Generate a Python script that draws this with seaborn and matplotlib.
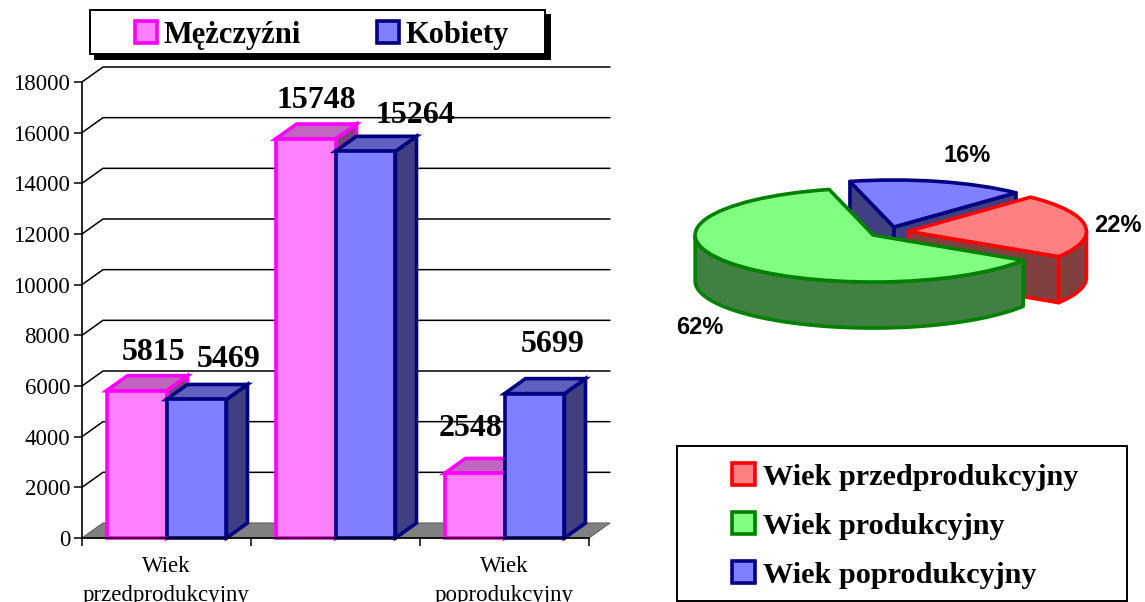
import numpy as np
import pandas as pd
import seaborn as sns
import matplotlib.pyplot as plt
from matplotlib.patches import Patch, Polygon, Rectangle

# %%
age_groups = ['Wiek\nprzedprodukcyjny', 'Wiek\nprodukcyjny', 'Wiek\npoprodukcyjny']
shown_labels = ['Wiek\nprzedprodukcyjny', '', 'Wiek\npoprodukcyjny']
men = [5815, 15748, 2548]
women = [5469, 15264, 5699]
series = ['Mężczyźni', 'Kobiety']
yticks = [0, 2000, 4000, 6000, 8000, 10000, 12000, 14000, 16000, 18000]

pie_labels = ['Wiek przedprodukcyjny', 'Wiek produkcyjny', 'Wiek poprodukcyjny']
pie_values = [22, 62, 16]

W, H = 1145, 602
DEPTH_X, DEPTH_Y = 21, 15   # fake 3d depth of the bar chart, pixels
PIE_DEPTH = 46
LW = 2.6

bar_fill = ['#FF80FF', '#8080FF']
bar_edge = ['#FF00FF', '#000080']
bar_top = ['#C066C0', '#6060C0']
bar_side = ['#804080', '#404080']
pie_fill = ['#FF8080', '#80FF80', '#8080FF']
pie_edge = ['#FF0000', '#008000', '#000080']
pie_wall = ['#804040', '#408040', '#404080']

sns.set_style('white')
plt.rcParams['font.family'] = ['Liberation Serif', 'DejaVu Sans']
plt.rcParams['patch.linewidth'] = LW
plt.rcParams['text.color'] = 'black'
plt.rcParams['xtick.color'] = 'black'
plt.rcParams['ytick.color'] = 'black'
plt.rcParams['xtick.labelcolor'] = 'black'
plt.rcParams['ytick.labelcolor'] = 'black'


def box(x0, y0, x1, y1):
    # pixel box, y going down as in the image
    return [x0 / W, 1 - y1 / H, (x1 - x0) / W, (y1 - y0) / H]


fig = plt.figure(figsize=(W / 100, H / 100), dpi=100)

# %%
# Bars
ax = fig.add_axes(box(82, 82, 589, 538))
ax.patch.set_visible(False)

df = pd.DataFrame({
    'group': age_groups * 2,
    'value': men + women,
    'sex': [series[0]] * 3 + [series[1]] * 3,
})
sns.barplot(
    data=df, x='group', y='value', hue='sex', hue_order=series,
    palette=bar_fill, width=0.71, gap=0, saturation=1, legend=False, ax=ax
)
ax.set_xlim(-0.5, 2.5)
ax.set_ylim(0, 18000)
ax.set_xlabel('')
ax.set_ylabel('')

dx = DEPTH_X * 3 / 507
dy = DEPTH_Y * 18000 / 456

ax.set_yticks(yticks)
ax.set_xticks([-0.5, 0.5, 1.5, 2.5])
ax.set_xticklabels([])
ax.set_xticks([0, 1, 2], minor=True)
ax.set_xticklabels(shown_labels, minor=True, fontsize=16.5, linespacing=1.5)
ax.tick_params(axis='y', which='major', left=True, length=5.5, width=1.1, labelsize=16.5, pad=3)
ax.tick_params(axis='x', which='major', bottom=True, length=6, width=1.1)
ax.tick_params(axis='x', which='minor', bottom=False, length=0, pad=13)
sns.despine(ax=ax)
for side in ['left', 'bottom']:
    ax.spines[side].set_color('black')
    ax.spines[side].set_linewidth(1.2)
    ax.spines[side].set_zorder(20)

# floor and back wall
ax.add_patch(Polygon(
    [(-0.5, 0), (-0.5 + dx, dy), (2.5 + dx, dy), (2.5, 0)],
    closed=True, fc='#808080', ec='#606060', lw=0.8, clip_on=False, zorder=0.5
))
for t in yticks[1:]:
    ax.plot([-0.5, -0.5 + dx, 2.5 + dx], [t, t + dy, t + dy], color='black',
            lw=1.1, clip_on=False, zorder=0.4)

for s, container in enumerate(ax.containers):
    for bar in container:
        x0, x1 = bar.get_x(), bar.get_x() + bar.get_width()
        h = bar.get_height()
        bar.set_edgecolor(bar_edge[s])
        bar.set_linewidth(LW)
        bar.set_clip_on(False)
        bar.set_zorder(3 + 2 * s)
        ax.add_patch(Polygon(
            [(x1, 0), (x1 + dx, dy), (x1 + dx, h + dy), (x1, h)],
            closed=True, fc=bar_side[s], ec=bar_edge[s], lw=LW, clip_on=False, zorder=2 + 2 * s
        ))
        ax.add_patch(Polygon(
            [(x0, h), (x0 + dx, h + dy), (x1 + dx, h + dy), (x1, h)],
            closed=True, fc=bar_top[s], ec=bar_edge[s], lw=LW, clip_on=False, zorder=2 + 2 * s
        ))

# value labels, offsets in pixels from the top centre of each bar
label_offsets = [[(17, 38), (11, 39), (-4, 45)], [(32, 40), (50, 36), (18, 49)]]
for s, container in enumerate(ax.containers):
    for i, bar in enumerate(container):
        h = bar.get_height()
        ax.annotate(
            f'{h:.0f}', (bar.get_x() + bar.get_width() / 2, h),
            xytext=label_offsets[s][i], textcoords='offset pixels',
            ha='center', va='center', fontsize=23, fontweight='bold',
            color='black', zorder=30
        )

# Legend of the bars
fig.add_artist(Rectangle((94 / W, 1 - 60 / H), 457 / W, 46 / H, transform=fig.transFigure,
                         fc='black', ec='black', lw=0, zorder=-2))
fig.add_artist(Rectangle((90 / W, 1 - 54 / H), 455 / W, 44 / H, transform=fig.transFigure,
                         fc='white', ec='black', lw=1.4, zorder=-1))
handles = [Patch(fc=bar_fill[i], ec=bar_edge[i], lw=LW, label=series[i]) for i in range(2)]
leg = ax.legend(
    handles=handles, ncol=2, loc='center', bbox_to_anchor=(322 / W, 1 - 35 / H),
    bbox_transform=fig.transFigure, frameon=False,
    prop={'weight': 'bold', 'size': 22}, handlelength=0.72, handleheight=0.72,
    handletextpad=0.22, columnspacing=2.5, borderpad=0
)
leg.set_zorder(40)

# %%
# Pie, squashed by the axes scales so the ellipse is 178 x 47 px per unit
pie_ax = fig.add_axes(box(889 - 1.3 * 178, 232 - 2 * 47, 889 + 1.3 * 178, 232 + 2 * 47))
wedges, _ = pie_ax.pie(
    pie_values, colors=pie_fill, startangle=46.7, counterclock=False,
    explode=[0.11] * 3, radius=1,
    wedgeprops={'linewidth': LW, 'joinstyle': 'round'}
)
pie_ax.set_aspect('auto')
pie_ax.set_xlim(-1.3, 1.3)
pie_ax.set_ylim(-2, 2)
pie_ax.axis('off')

wall = PIE_DEPTH / 47
mids = [(w.theta1 + w.theta2) / 2 for w in wedges]
order = np.argsort([-np.sin(np.radians(m)) for m in mids])

for rank, i in enumerate(order):
    w = wedges[i]
    cx, cy = w.center
    t1, t2 = w.theta1, w.theta2
    w.set_edgecolor(pie_edge[i])
    w.set_zorder(2 * rank + 3)
    style = dict(closed=True, fc=pie_wall[i], ec=pie_edge[i], lw=LW, joinstyle='round',
                 clip_on=False, zorder=2 * rank + 2)

    # cut faces that turn towards the viewer
    for theta, normal in [(t1, t1 - 90), (t2, t2 + 90)]:
        if np.sin(np.radians(normal)) < 0:
            rx = cx + np.cos(np.radians(theta))
            ry = cy + np.sin(np.radians(theta))
            pie_ax.add_patch(Polygon(
                [(cx, cy), (rx, ry), (rx, ry - wall), (cx, cy - wall)], **style
            ))

    # outer rim, front half only
    a = np.radians(np.linspace(t1, t2, 240))
    a = a[np.sin(a) <= 0]
    if len(a):
        upper = np.column_stack([cx + np.cos(a), cy + np.sin(a)])
        lower = upper[::-1] - [0, wall]
        pie_ax.add_patch(Polygon(np.vstack([upper, lower]), **style))

# percent labels
pct_pos = [(1118, 226), (700, 328), (967, 155)]
for v, (px, py) in zip(pie_values, pct_pos):
    fig.text(px / W, 1 - py / H, f'{v}%', ha='center', va='center', family='Liberation Sans',
             fontsize=17, fontweight='bold', color='black', zorder=30)

# Legend of the pie
fig.add_artist(Rectangle((677 / W, 1 - 601 / H), 450 / W, 155 / H, transform=fig.transFigure,
                         fc='white', ec='black', lw=1.4, zorder=-1))
handles = [Patch(fc=pie_fill[i], ec=pie_edge[i], lw=LW, label=pie_labels[i]) for i in range(3)]
leg2 = pie_ax.legend(
    handles=handles, loc='center', bbox_to_anchor=(905 / W, 1 - 526 / H),
    bbox_transform=fig.transFigure, frameon=False,
    prop={'weight': 'bold', 'size': 21.8}, handlelength=0.74, handleheight=0.74,
    handletextpad=0.26, labelspacing=0.7, borderpad=0
)
leg2.set_zorder(40)

fig.savefig('out.png', dpi=100)
